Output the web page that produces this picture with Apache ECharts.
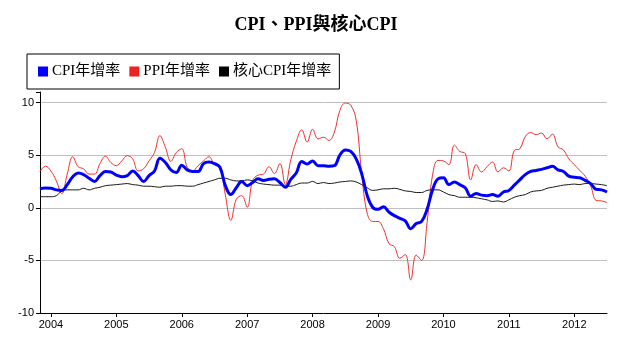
<!DOCTYPE html>
<html>
<head>
<meta charset="utf-8">
<script src="https://cdn.jsdelivr.net/npm/echarts@6/dist/echarts.min.js"></script>
<style>html,body{margin:0;padding:0;background:#fff;}#c{width:632px;height:340px;}</style>
</head>
<body>
<div id="c"></div>
<script>
var titleText = 'CPI、PPI與核心CPI';
var seriesNames = ['CPI年增率', 'PPI年增率', '核心CPI年增率'];
var months = [
  '2003-11','2003-12',
  '2004-01','2004-02','2004-03','2004-04','2004-05','2004-06','2004-07','2004-08','2004-09','2004-10','2004-11','2004-12',
  '2005-01','2005-02','2005-03','2005-04','2005-05','2005-06','2005-07','2005-08','2005-09','2005-10','2005-11','2005-12',
  '2006-01','2006-02','2006-03','2006-04','2006-05','2006-06','2006-07','2006-08','2006-09','2006-10','2006-11','2006-12',
  '2007-01','2007-02','2007-03','2007-04','2007-05','2007-06','2007-07','2007-08','2007-09','2007-10','2007-11','2007-12',
  '2008-01','2008-02','2008-03','2008-04','2008-05','2008-06','2008-07','2008-08','2008-09','2008-10','2008-11','2008-12',
  '2009-01','2009-02','2009-03','2009-04','2009-05','2009-06','2009-07','2009-08','2009-09','2009-10','2009-11','2009-12',
  '2010-01','2010-02','2010-03','2010-04','2010-05','2010-06','2010-07','2010-08','2010-09','2010-10','2010-11','2010-12',
  '2011-01','2011-02','2011-03','2011-04','2011-05','2011-06','2011-07','2011-08','2011-09','2011-10','2011-11','2011-12',
  '2012-01','2012-02','2012-03','2012-04','2012-05','2012-06','2012-07'
];
var cpi = [
  1.8,1.87,
  1.85,1.7,1.65,2.2,2.95,3.3,3.15,2.8,2.5,3.05,3.45,3.4,
  3.1,2.95,3.05,3.5,3.05,2.5,3.05,3.5,4.7,4.3,3.6,3.35,
  4.05,3.6,3.45,3.45,4.2,4.35,4.2,3.85,2.1,1.25,1.9,2.5,
  2.1,2.4,2.75,2.6,2.7,2.75,2.4,1.95,2.7,3.3,4.4,4.15,
  4.45,4.0,4.0,3.95,4.0,5.0,5.5,5.35,4.65,3.25,1.2,0.05,
  -0.15,0.1,-0.4,-0.75,-1.0,-1.25,-2.0,-1.5,-1.3,-0.15,1.7,2.75,
  2.85,2.2,2.45,2.2,1.9,1.1,1.35,1.2,1.15,1.25,1.1,1.5,
  1.65,2.15,2.65,3.15,3.45,3.55,3.65,3.8,3.95,3.6,3.45,3.0,
  2.9,2.85,2.6,2.3,1.75,1.7,1.5
];
var ppi = [
  3.45,3.95,
  3.5,2.55,1.35,3.2,4.85,3.9,3.7,3.2,3.2,4.2,4.9,4.3,
  4.0,4.45,4.95,4.65,3.5,3.7,4.45,5.25,6.85,5.75,4.4,5.25,
  5.6,3.85,3.5,4.0,4.45,4.85,4.1,3.85,1.2,-1.2,0.8,1.15,
  0.05,2.6,3.1,3.2,3.9,3.25,4.2,2.2,4.55,6.3,7.4,6.25,
  7.45,6.55,6.7,6.4,7.2,9.25,9.95,9.75,8.3,3.25,-0.5,-1.3,
  -1.3,-2.0,-3.4,-3.7,-4.8,-4.45,-6.85,-4.5,-5.0,-1.4,3.1,4.5,
  4.45,4.1,5.95,5.35,5.15,2.65,4.1,3.4,3.9,4.35,3.4,3.8,
  3.5,5.45,5.6,6.75,7.15,6.95,7.1,6.55,7.0,5.8,5.5,4.65,
  4.1,3.55,3.0,2.1,0.7,0.65,0.5
];
var core = [
  1.05,1.05,
  1.05,1.15,1.6,1.7,1.7,1.7,1.85,1.7,1.85,1.95,2.1,2.15,
  2.2,2.25,2.3,2.2,2.15,2.05,2.05,2.0,1.95,2.05,2.05,2.1,
  2.1,2.05,2.05,2.2,2.35,2.5,2.65,2.8,2.8,2.65,2.55,2.55,
  2.65,2.55,2.35,2.25,2.2,2.15,2.15,2.05,2.05,2.2,2.35,2.35,
  2.5,2.3,2.4,2.3,2.35,2.45,2.5,2.55,2.45,2.2,1.9,1.65,
  1.7,1.8,1.8,1.85,1.75,1.6,1.55,1.45,1.45,1.65,1.7,1.7,
  1.5,1.25,1.15,1.0,1.0,1.0,0.95,0.85,0.75,0.6,0.65,0.55,
  0.75,1.0,1.15,1.25,1.5,1.6,1.65,1.85,1.95,2.05,2.15,2.2,
  2.25,2.2,2.3,2.3,2.25,2.2,2.1
];
var yTickLabels = [-10, -5, 0, 5, 10];

var isJan = function (idx) { return months[idx].slice(5) === '01'; };
var chart = echarts.init(document.getElementById('c'), null, {renderer: 'canvas'});
chart.setOption({
  animation: false,
  backgroundColor: '#ffffff',
  title: {
    text: titleText, left: 'center', top: 11,
    textStyle: {fontSize: 18, fontWeight: 'bold', color: '#000', fontFamily: '"Liberation Serif", "Noto Sans CJK TC", serif'}
  },
  legend: {
    data: seriesNames, left: 27, top: 54,
    borderColor: '#000', borderWidth: 1, padding: [10, 8, 10, 11],
    itemGap: 9, itemWidth: 10, itemHeight: 10, icon: 'rect',
    textStyle: {fontSize: 15, color: '#000', fontFamily: '"Liberation Serif", "Noto Sans CJK TC", serif', padding: [0, 0, 0, -1]}
  },
  grid: {left: 40, right: 25, top: 92, bottom: 27, containLabel: false},
  xAxis: {
    type: 'category', data: months, boundaryGap: false,
    axisLine: {onZero: false, lineStyle: {color: '#000', width: 1}},
    axisTick: {interval: function (i) { return isJan(i); }, length: 4, lineStyle: {color: '#000'}},
    axisLabel: {
      interval: function (i) { return isJan(i); },
      formatter: function (v) { return v.slice(0, 4); },
      color: '#000', fontSize: 11, fontFamily: '"Liberation Sans", Arial, sans-serif', margin: 6
    },
    splitLine: {show: false}
  },
  yAxis: {
    type: 'value', min: -10, max: 11, interval: 5,
    axisLine: {show: true, lineStyle: {color: '#000', width: 1}},
    axisTick: {show: true, length: 4, lineStyle: {color: '#000'}},
    axisLabel: {
      formatter: function (v) { return yTickLabels.indexOf(v) >= 0 ? String(v) : ''; },
      color: '#000', fontSize: 11, fontFamily: '"Liberation Sans", Arial, sans-serif', margin: 6
    },
    splitLine: {show: true, showMinLine: false, showMaxLine: false, lineStyle: {color: '#c0c0c0', width: 1}}
  },
  series: [
    {name: seriesNames[0], type: 'line', data: cpi, smooth: 0.4, showSymbol: false, z: 5,
     itemStyle: {color: '#0000ff'}, lineStyle: {color: '#0000ff', width: 3}},
    {name: seriesNames[1], type: 'line', data: ppi, smooth: 0.4, showSymbol: false, z: 3,
     itemStyle: {color: '#ee2222'}, lineStyle: {color: '#f03030', width: 1}},
    {name: seriesNames[2], type: 'line', data: core, smooth: 0.4, showSymbol: false, z: 4,
     itemStyle: {color: '#000000'}, lineStyle: {color: '#1a1a1a', width: 1}}
  ]
});
</script>
</body>
</html>
